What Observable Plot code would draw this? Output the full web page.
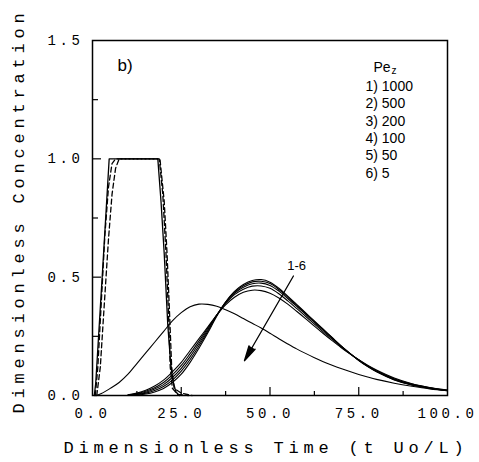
<!DOCTYPE html>
<html><head><meta charset="utf-8">
<script src="https://cdn.jsdelivr.net/npm/d3@7"></script>
<script src="https://cdn.jsdelivr.net/npm/@observablehq/plot@0.6"></script>
<style>
body{margin:0;background:#fff;}
#chart svg{display:block;}
</style></head><body><div id="chart"></div>
<script>
// Legend / annotation text
const peLabels = ["1000", "500", "200", "100", "50", "5"];
const panelLabel = "b)";
const arrowLabel = "1-6";
const xTitle = "Dimensionless Time (t Uo/L)";
const yTitle = "Dimensionless Concentration";
// Ticks
const xTickLabels = [0, 25, 50, 75, 100];
const xMajorTicks = [25, 50, 75];
const xMinorTicks = [12.5, 37.5, 62.5, 87.5];
const yTickLabels = [0, 0.5, 1.0, 1.5];
const yMajorTicks = [0.5, 1.0];
const yMinorTicks = [0.25, 0.75, 1.25];

// Outlet curves 1-5 (Pe 1000, 500, 200, 100, 50)
const xGrid = [10,12.5,15,17.5,20,22.5,25,27.5,30,32.5,35,37.5,40,42.5,45,47.5,50,52.5,55,57.5,60,62.5,65,67.5,70,72.5,75,77.5,80,85,90,95,100];
const c1 = [0.0,0.002,0.006,0.015,0.03,0.055,0.09,0.14,0.2,0.265,0.335,0.395,0.44,0.469,0.486,0.49,0.479,0.453,0.42,0.385,0.35,0.315,0.28,0.245,0.21,0.178,0.148,0.122,0.1,0.066,0.044,0.03,0.02];
const c2 = [0.0,0.004,0.01,0.021,0.038,0.065,0.103,0.152,0.21,0.272,0.338,0.395,0.437,0.464,0.48,0.483,0.473,0.448,0.416,0.382,0.347,0.312,0.278,0.244,0.21,0.178,0.149,0.123,0.101,0.067,0.045,0.031,0.021];
const c3 = [0.001,0.006,0.014,0.027,0.046,0.076,0.115,0.164,0.22,0.279,0.34,0.393,0.432,0.457,0.472,0.475,0.465,0.441,0.41,0.377,0.343,0.309,0.275,0.242,0.209,0.178,0.15,0.124,0.103,0.069,0.046,0.032,0.021];
const c4 = [0.002,0.008,0.018,0.033,0.055,0.087,0.127,0.177,0.23,0.285,0.34,0.388,0.426,0.449,0.462,0.463,0.453,0.43,0.4,0.368,0.335,0.302,0.269,0.238,0.206,0.177,0.15,0.126,0.105,0.071,0.048,0.033,0.022];
const c5 = [0.003,0.01,0.022,0.04,0.065,0.1,0.14,0.19,0.24,0.29,0.34,0.383,0.415,0.436,0.445,0.443,0.432,0.412,0.386,0.356,0.325,0.293,0.262,0.232,0.203,0.176,0.151,0.128,0.108,0.074,0.05,0.034,0.023];
// Curve 6 (Pe 5)
const x6 = [1,2.5,5,7.5,10,12.5,15,17.5,20,22.5,25,27.5,30,32.5,35,37.5,40,42.5,45,47.5,50,52.5,55,57.5,60,62.5,65,67.5,70,72.5,75,77.5,80,85,90,95,100];
const c6 = [0,0.008,0.03,0.055,0.09,0.135,0.18,0.225,0.27,0.315,0.35,0.375,0.386,0.385,0.377,0.362,0.345,0.325,0.305,0.285,0.263,0.24,0.218,0.197,0.178,0.16,0.143,0.128,0.114,0.101,0.089,0.078,0.068,0.052,0.039,0.028,0.02];

// Inlet pulses
const pulseX = [0.5,0.9,2.8,4.7,18.4,19.3,20.2,21.2,22.0,22.6,23.5,24.5];
const pulseY = [0,0.05,0.52,1.0,1.0,0.82,0.6,0.3,0.14,0.065,0.015,0];
const dashAX = [0.8,1.5,2.5,3.5,4.5,5.5,6.5,18.8,19.8,20.7,21.4,21.9,22.5,24,27];
const dashAY = [0,0.12,0.4,0.68,0.88,0.98,1.0,1.0,0.85,0.6,0.35,0.12,0.03,0.005,0];
const dashBX = [1.2,2.2,3.3,4.5,5.5,6.5,7.5,19,20.2,21,21.7,22.3,23,25,28];
const dashBY = [0,0.12,0.38,0.66,0.85,0.96,1.0,1.0,0.82,0.6,0.35,0.12,0.03,0.01,0];

// Annotation arrow (data units)
const arrowFrom = [56.6, 0.505];
const arrowTo = [42.8, 0.147];
const arrowLabelAt = [57.5, 0.547];

const bundle = [c1, c2, c3, c4, c5].flatMap((ys, i) => ys.map((y, j) => ({x: xGrid[j], y, id: i + 1})));
const curve6 = c6.map((y, j) => ({x: x6[j], y}));
const pulse = pulseY.map((y, j) => ({x: pulseX[j], y}));
const dashed = [
  ...dashAY.map((y, j) => ({x: dashAX[j], y, id: "A"})),
  ...dashBY.map((y, j) => ({x: dashBX[j], y, id: "B"}))
];
const legendText = peLabels.map((p, i) => `${i + 1}) ${p}`).join("\n");

const mono = "Liberation Mono";
const sans = "Liberation Sans";

const plot = Plot.plot({
  width: 479, height: 462,
  marginLeft: 92, marginRight: 32, marginTop: 40, marginBottom: 67,
  x: {domain: [0, 100]},
  y: {domain: [0, 1.5]},
  style: {background: "#fff", color: "#000"},
  marks: [
    Plot.axisX({ticks: xTickLabels, tickSize: 0, tickPadding: 13, tickFormat: d => d.toFixed(1), fontFamily: mono, fontSize: 14, label: null}),
    Plot.axisX({ticks: xMajorTicks, tickSize: -8, fill: "none", label: null, strokeWidth: 1.2}),
    Plot.axisX({ticks: xMinorTicks, tickSize: -4, fill: "none", label: null, strokeWidth: 1.2}),
    Plot.axisY({ticks: yTickLabels, tickSize: 0, tickPadding: 9, tickFormat: d => d.toFixed(1), fontFamily: mono, fontSize: 14, label: null}),
    Plot.axisY({ticks: yMajorTicks, tickSize: -9, fill: "none", label: null, strokeWidth: 1.2}),
    Plot.axisY({ticks: yMinorTicks, tickSize: -6, fill: "none", label: null, strokeWidth: 1.2}),
    Plot.lineY(dashed, {x: "x", y: "y", z: "id", stroke: "#000", strokeWidth: 1.3, strokeDasharray: "5,3"}),
    Plot.lineY(pulse, {x: "x", y: "y", stroke: "#000", strokeWidth: 1.3}),
    Plot.lineY(bundle, {x: "x", y: "y", z: "id", stroke: "#000", strokeWidth: 1.1, curve: "catmull-rom"}),
    Plot.lineY(curve6, {x: "x", y: "y", stroke: "#000", strokeWidth: 1.1, curve: "catmull-rom"}),
    Plot.arrow([{a: arrowFrom, b: arrowTo}], {x1: d => d.a[0], y1: d => d.a[1], x2: d => d.b[0], y2: d => d.b[1], stroke: "#000", fill: "#000", strokeWidth: 1.3, headLength: 18, headAngle: 26}),
    Plot.text([arrowLabel], {x: () => arrowLabelAt[0], y: () => arrowLabelAt[1], text: d => d, fontFamily: sans, fontSize: 13, fill: "#000"}),
    Plot.text([panelLabel], {frameAnchor: "top-left", dx: 25, dy: 18, lineAnchor: "top", textAnchor: "start", text: d => d, fontFamily: sans, fontSize: 17, fill: "#000"}),
    Plot.text(["Pe"], {frameAnchor: "top-left", dx: 281, dy: 22, lineAnchor: "top", textAnchor: "start", text: d => d, fontFamily: sans, fontSize: 14, fill: "#000"}),
    Plot.text(["z"], {frameAnchor: "top-left", dx: 299, dy: 26, lineAnchor: "top", textAnchor: "start", text: d => d, fontFamily: sans, fontSize: 10, fill: "#000"}),
    Plot.text([legendText], {frameAnchor: "top-left", dx: 273, dy: 38, lineAnchor: "top", textAnchor: "start", lineHeight: 1.24, text: d => d, fontFamily: sans, fontSize: 14, fill: "#000"}),
    Plot.text([xTitle], {frameAnchor: "bottom", dy: 52, dx: -4, lineAnchor: "middle", textAnchor: "middle", text: d => d, fontFamily: mono, fontSize: 17, fill: "#000"}),
    Plot.text([yTitle], {frameAnchor: "left", dx: -74, dy: -7, rotate: -90, lineAnchor: "middle", textAnchor: "middle", text: d => d, fontFamily: mono, fontSize: 17, fill: "#000"}),
    Plot.frame({stroke: "#000", strokeWidth: 1.5})
  ]
});
// letter spacing to mimic the wide plotter font
d3.select(plot).selectAll("text").each(function () {
  const t = this.textContent;
  if (t === xTitle || t === yTitle) this.style.letterSpacing = "4.8px";
});
d3.select(plot).selectAll('g[aria-label="x-axis tick label"] text, g[aria-label="y-axis tick label"] text')
  .style("letter-spacing", "3.6px");
document.getElementById("chart").appendChild(plot);
</script></body></html>
